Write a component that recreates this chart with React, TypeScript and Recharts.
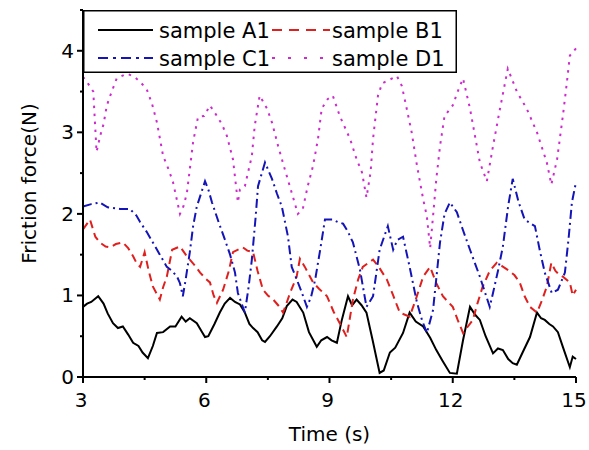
import React from "react";
import { LineChart, Line, XAxis, YAxis, Legend } from "recharts";

// friction force traces (time in s, force in N)
const timeA = [3.0, 3.1, 3.2, 3.37, 3.5, 3.6, 3.73, 3.85, 3.97, 4.1, 4.22, 4.35, 4.45, 4.58, 4.7, 4.8, 4.95, 5.12, 5.25, 5.4, 5.5, 5.6, 5.77, 5.9, 5.97, 6.05, 6.2, 6.33, 6.45, 6.58, 6.7, 6.82, 6.94, 7.05, 7.14, 7.25, 7.36, 7.43, 7.55, 7.72, 7.85, 7.96, 8.1, 8.2, 8.36, 8.5, 8.69, 8.8, 8.94, 9.05, 9.18, 9.3, 9.45, 9.55, 9.66, 9.78, 9.9, 10.05, 10.22, 10.32, 10.47, 10.6, 10.79, 10.95, 11.1, 11.28, 11.45, 11.6, 11.75, 11.93, 12.1, 12.25, 12.42, 12.55, 12.66, 12.8, 12.98, 13.1, 13.22, 13.35, 13.46, 13.56, 13.7, 13.88, 14.05, 14.15, 14.24, 14.35, 14.44, 14.56, 14.68, 14.85, 14.92, 15.0];
const forceA = [0.86, 0.9, 0.92, 0.99, 0.9, 0.78, 0.66, 0.6, 0.62, 0.52, 0.42, 0.38, 0.3, 0.23, 0.38, 0.54, 0.55, 0.62, 0.62, 0.74, 0.68, 0.72, 0.66, 0.55, 0.49, 0.5, 0.65, 0.79, 0.9, 0.97, 0.92, 0.89, 0.79, 0.65, 0.6, 0.55, 0.45, 0.43, 0.5, 0.62, 0.72, 0.87, 0.95, 0.92, 0.79, 0.55, 0.37, 0.45, 0.49, 0.45, 0.42, 0.7, 0.99, 0.88, 0.95, 0.88, 0.79, 0.45, 0.05, 0.08, 0.3, 0.36, 0.54, 0.79, 0.68, 0.62, 0.48, 0.33, 0.2, 0.05, 0.04, 0.45, 0.86, 0.76, 0.7, 0.5, 0.29, 0.35, 0.33, 0.22, 0.17, 0.15, 0.3, 0.49, 0.79, 0.72, 0.7, 0.65, 0.62, 0.55, 0.37, 0.12, 0.25, 0.22];

const timeB = [3.0, 3.1, 3.17, 3.3, 3.41, 3.55, 3.66, 3.8, 3.97, 4.1, 4.22, 4.3, 4.39, 4.5, 4.6, 4.7, 4.87, 4.95, 5.04, 5.17, 5.36, 5.5, 5.6, 5.75, 5.85, 6.0, 6.09, 6.18, 6.26, 6.41, 6.55, 6.65, 6.89, 7.0, 7.14, 7.25, 7.38, 7.5, 7.63, 7.75, 7.87, 7.95, 8.04, 8.2, 8.28, 8.4, 8.6, 8.75, 8.94, 9.1, 9.25, 9.42, 9.57, 9.7, 9.81, 10.06, 10.2, 10.4, 10.55, 10.71, 10.95, 11.1, 11.28, 11.45, 11.6, 11.76, 12.0, 12.12, 12.25, 12.49, 12.6, 12.73, 12.9, 13.07, 13.2, 13.32, 13.5, 13.63, 13.75, 13.88, 14.05, 14.18, 14.29, 14.4, 14.5, 14.6, 14.68, 14.85, 14.92, 15.0];
const forceB = [1.81, 1.88, 1.93, 1.72, 1.65, 1.6, 1.59, 1.63, 1.65, 1.58, 1.48, 1.4, 1.35, 1.53, 1.3, 1.11, 0.95, 1.1, 1.23, 1.56, 1.6, 1.5, 1.44, 1.35, 1.28, 1.2, 1.16, 1.0, 0.91, 1.07, 1.3, 1.53, 1.59, 1.55, 1.53, 1.3, 1.07, 1.0, 0.95, 0.88, 0.79, 0.9, 1.03, 1.23, 1.45, 1.35, 1.16, 1.08, 0.99, 0.8, 0.66, 0.49, 0.95, 1.2, 1.35, 1.44, 1.35, 1.19, 1.0, 0.79, 0.74, 0.95, 1.23, 1.35, 1.15, 0.99, 0.86, 0.7, 0.54, 0.7, 0.9, 1.11, 1.3, 1.4, 1.36, 1.32, 1.25, 1.16, 0.99, 0.86, 0.79, 0.95, 1.11, 1.4, 1.3, 1.25, 1.23, 1.16, 1.0, 1.07];

const timeC = [3.0, 3.2, 3.41, 3.6, 3.9, 4.14, 4.3, 4.39, 4.55, 4.7, 4.87, 5.04, 5.17, 5.29, 5.36, 5.43, 5.5, 5.6, 5.68, 5.77, 5.97, 6.05, 6.14, 6.3, 6.45, 6.58, 6.7, 6.77, 6.94, 7.03, 7.11, 7.2, 7.26, 7.43, 7.6, 7.72, 7.84, 7.99, 8.08, 8.2, 8.33, 8.45, 8.55, 8.65, 8.77, 8.89, 9.08, 9.2, 9.33, 9.45, 9.57, 9.74, 9.9, 10.06, 10.22, 10.42, 10.55, 10.65, 10.79, 10.95, 11.13, 11.25, 11.37, 11.52, 11.69, 11.8, 11.93, 12.1, 12.25, 12.42, 12.66, 12.9, 12.98, 13.1, 13.22, 13.35, 13.46, 13.6, 13.75, 14.0, 14.12, 14.24, 14.41, 14.56, 14.73, 14.82, 14.9, 15.0];
const forceC = [2.09, 2.12, 2.14, 2.08, 2.06, 2.06, 1.98, 1.9, 1.78, 1.65, 1.5, 1.35, 1.3, 1.23, 1.15, 0.99, 1.2, 1.53, 1.85, 2.09, 2.4, 2.3, 2.14, 1.9, 1.69, 1.5, 1.28, 1.03, 0.79, 1.1, 1.44, 1.95, 2.34, 2.63, 2.43, 2.25, 2.09, 1.72, 1.35, 1.2, 1.03, 0.86, 0.98, 1.19, 1.55, 1.93, 1.93, 1.9, 1.88, 1.78, 1.65, 1.32, 0.86, 0.99, 1.56, 1.85, 1.56, 1.68, 1.72, 1.35, 0.91, 0.7, 0.54, 0.82, 1.65, 2.0, 2.14, 2.02, 1.8, 1.56, 1.23, 0.86, 1.03, 1.3, 1.6, 2.1, 2.43, 2.15, 1.93, 1.85, 1.55, 1.28, 1.03, 1.07, 1.28, 1.7, 2.14, 2.39];

const timeD = [3.0, 3.12, 3.25, 3.33, 3.42, 3.5, 3.58, 3.7, 3.82, 4.07, 4.25, 4.39, 4.55, 4.68, 4.8, 4.95, 5.08, 5.19, 5.36, 5.45, 5.53, 5.68, 5.8, 5.95, 6.09, 6.26, 6.38, 6.5, 6.65, 6.77, 6.82, 6.94, 7.11, 7.18, 7.3, 7.48, 7.6, 7.75, 7.91, 8.08, 8.23, 8.35, 8.47, 8.6, 8.72, 8.81, 8.96, 9.08, 9.25, 9.5, 9.66, 9.79, 9.9, 10.0, 10.06, 10.18, 10.28, 10.64, 10.76, 10.88, 11.0, 11.13, 11.28, 11.37, 11.45, 11.52, 11.6, 11.69, 11.8, 12.0, 12.12, 12.25, 12.42, 12.54, 12.66, 12.83, 12.98, 13.15, 13.34, 13.56, 13.8, 14.05, 14.29, 14.4, 14.54, 14.68, 14.78, 14.85, 15.0];
const forceD = [3.68, 3.6, 3.5, 2.76, 2.96, 3.1, 3.33, 3.5, 3.66, 3.72, 3.68, 3.62, 3.53, 3.35, 3.12, 2.71, 2.55, 2.39, 2.0, 2.1, 2.26, 2.88, 3.19, 3.2, 3.33, 3.2, 3.1, 2.96, 2.67, 2.14, 2.3, 2.34, 2.71, 3.08, 3.45, 3.29, 3.12, 2.83, 2.55, 2.26, 2.0, 2.06, 2.34, 2.59, 2.92, 3.29, 3.41, 3.45, 3.2, 2.92, 2.67, 2.51, 2.2, 2.51, 2.92, 3.45, 3.6, 3.69, 3.57, 3.29, 3.0, 2.59, 2.18, 1.97, 1.58, 1.97, 2.43, 2.83, 3.2, 3.33, 3.5, 3.66, 3.29, 2.96, 2.63, 2.4, 2.83, 3.29, 3.78, 3.5, 3.29, 3.0, 2.63, 2.36, 2.67, 3.2, 3.62, 3.94, 4.03];

const seriesNames = ["sample A1", "sample B1", "sample C1", "sample D1"];
const xTicks = [3, 4.5, 6, 7.5, 9, 10.5, 12, 13.5, 15];
const yTicks = [0, 0.5, 1, 1.5, 2, 2.5, 3, 3.5, 4, 4.5];

const toPoints = (ts: number[], vs: number[]) => ts.map((t, i) => ({ t, v: vs[i] }));

const series = [
  { name: seriesNames[0], data: toPoints(timeA, forceA), color: "#000000", dash: undefined, legendDash: undefined },
  { name: seriesNames[1], data: toPoints(timeB, forceB), color: "#e0201e", dash: "8 5", legendDash: "10 7" },
  { name: seriesNames[2], data: toPoints(timeC, forceC), color: "#1414b8", dash: "9 4 2 4", legendDash: "10 5 3 5" },
  { name: seriesNames[3], data: toPoints(timeD, forceD), color: "#cc2ccc", dash: "2.5 5.5", legendDash: "3 13" },
];

const FONT = "DejaVu Sans";

function XTick({ x, y, payload }: any) {
  const major = payload.value % 3 === 0;
  return (
    <g>
      <line x1={x} x2={x} y1={y} y2={y + (major ? 6 : 3)} stroke="#000" strokeWidth={2} />
      {major && (
        <text x={x - 2} y={y + 30} textAnchor="middle" fontSize={20} fill="#000">
          {payload.value}
        </text>
      )}
    </g>
  );
}

function YTick({ x, y, payload }: any) {
  const major = Number.isInteger(payload.value);
  return (
    <g>
      <line x1={x - (major ? 6 : 3)} x2={x} y1={y} y2={y} stroke="#000" strokeWidth={2} />
      {major && (
        <text x={x - 9} y={y + 7} textAnchor="end" fontSize={20} fill="#000">
          {payload.value}
        </text>
      )}
    </g>
  );
}

function YTitle({ viewBox }: any) {
  const cx = viewBox.x + 36;
  const cy = viewBox.y + viewBox.height / 2 - 10;
  return (
    <text transform={`translate(${cx}, ${cy}) rotate(-90)`} textAnchor="middle" fontSize={20} fill="#000">
      Friction force(N)
    </text>
  );
}

// two-column boxed legend, like the original figure
function LegendBox() {
  const rows = [20, 48];
  const cols = [
    { x1: 15, x2: 70, tx: 76 },
    { x1: 189, x2: 247, tx: 249 },
  ];
  return (
    <svg width={374} height={63} style={{ display: "block" }}>
      <rect x={0.75} y={0.75} width={372.5} height={61.5} fill="#fff" stroke="#000" strokeWidth={1.5} />
      {series.map((s, i) => {
        const c = cols[i % 2];
        const y = rows[Math.floor(i / 2)];
        return (
          <g key={s.name}>
            <line x1={c.x1} x2={c.x2} y1={y} y2={y} stroke={s.color} strokeWidth={2} strokeDasharray={s.legendDash} />
            <text x={c.tx} y={y + 7.5} fontSize={21} fill="#000" fontFamily={FONT}>
              {s.name}
            </text>
          </g>
        );
      })}
    </svg>
  );
}

export default function App() {
  return (
    <div style={{ position: "absolute", left: 0, top: 0, fontFamily: FONT }}>
      <LineChart width={589} height={450} margin={{ top: 10, right: 13, left: 0, bottom: 0 }}>
        <XAxis
          dataKey="t"
          type="number"
          domain={[3, 15]}
          ticks={xTicks}
          interval={0}
          height={73}
          tickSize={0}
          tickMargin={0}
          tickLine={false}
          tick={<XTick />}
          axisLine={{ stroke: "#000", strokeWidth: 2 }}
          label={{ value: "Time (s)", position: "insideBottom", offset: 9, fontSize: 20, fill: "#000" }}
        />
        <XAxis
          xAxisId="top"
          orientation="top"
          type="number"
          domain={[3, 15]}
          height={0}
          tick={false}
          tickLine={false}
          axisLine={{ stroke: "#000", strokeWidth: 2 }}
        />
        <YAxis
          type="number"
          domain={[0, 4.5]}
          ticks={yTicks}
          interval={0}
          width={83}
          tickSize={0}
          tickMargin={0}
          tickLine={false}
          tick={<YTick />}
          axisLine={{ stroke: "#000", strokeWidth: 2 }}
          label={{ content: <YTitle /> }}
        />
        <YAxis
          yAxisId="right"
          orientation="right"
          type="number"
          domain={[0, 4.5]}
          width={0}
          tick={false}
          tickLine={false}
          axisLine={{ stroke: "#000", strokeWidth: 2 }}
        />
        {series.map((s) => (
          <Line
            key={s.name}
            name={s.name}
            data={s.data}
            dataKey="v"
            type="linear"
            dot={false}
            stroke={s.color}
            strokeWidth={2}
            strokeDasharray={s.dash}
            isAnimationActive={false}
          />
        ))}
        <Legend
          layout="horizontal"
          verticalAlign="middle"
          align="center"
          wrapperStyle={{ left: 83, top: 10, width: 374, height: 63 }}
          content={<LegendBox />}
        />
      </LineChart>
    </div>
  );
}
